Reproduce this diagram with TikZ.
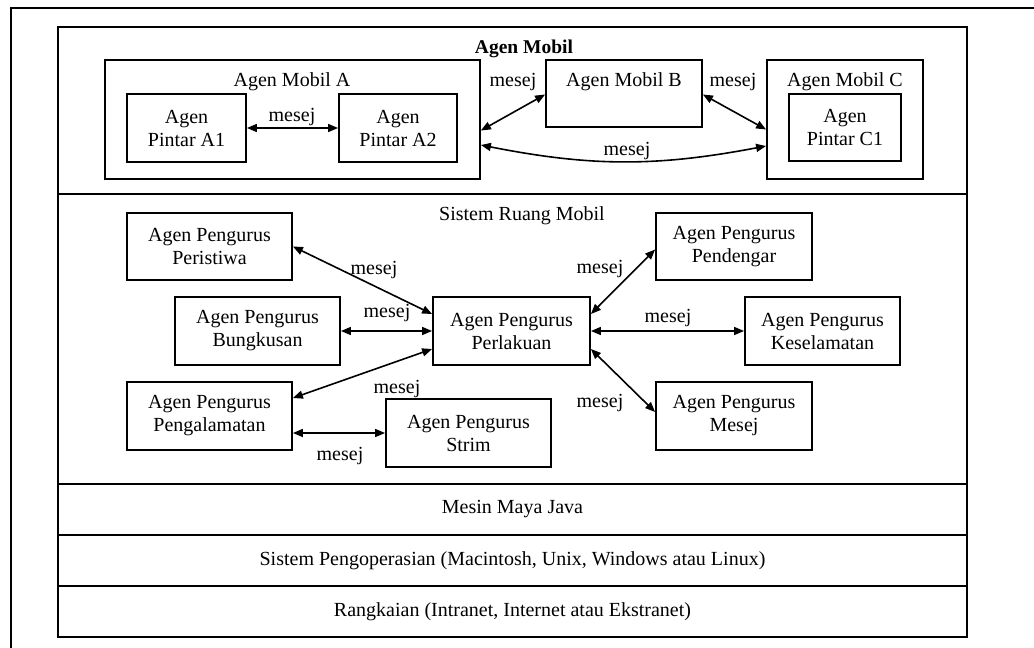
\documentclass[tikz,border=0pt]{standalone}
\usepackage{fontspec}
\setmainfont{Liberation Serif}
\usetikzlibrary{arrows.meta,calc}
\begin{document}
\begin{tikzpicture}[x=1pt,y=-1pt,
  txt/.style={font=\fontsize{20}{23}\selectfont, align=center, inner sep=0pt},
  box/.style={txt, draw, line width=1.8pt, minimum width=#1, inner sep=0pt},
  band/.style={draw, line width=1.8pt, minimum width=909pt, inner sep=0pt, txt},
  msg/.style={line width=1.6pt, {Triangle[length=10pt,width=8pt]}-{Triangle[length=10pt,width=8pt]}},
  lbl/.style={txt}
]
\useasboundingbox (0,0) rectangle (1034,648);
% outer frame (top and left edges only)
\draw[line width=1.5pt] (11,648) -- (11,8) -- (1034,8);

% layer bands
\node[band, minimum height=167pt] (bandmobil) at (512.5,110.5) {};
\node[band, minimum height=290pt] (bandruang) at (512.5,339) {};
\node[band, minimum height=51pt] (jvm) at (512.5,509.5) {Mesin Maya Java};
\node[band, minimum height=51pt] (os) at (512.5,560.5) {Sistem Pengoperasian (Macintosh, Unix, Windows atau Linux)};
\node[band, minimum height=51pt] (net) at (512.5,611.5) {Rangkaian (Intranet, Internet atau Ekstranet)};

% mobile agents
\node[lbl, font=\fontsize{19.5}{23}\selectfont\bfseries] (tmobil) at (524,49) {Agen Mobil};
\node[box=375pt, minimum height=119pt] (mobA) at (292.5,119.5) {};
\node[lbl] (tmobA) at (292,82) {Agen Mobil A};
\node[box=119pt, minimum height=68pt] (a1) at (186.5,128) {Agen\\Pintar A1};
\node[box=118pt, minimum height=68pt] (a2) at (398,128) {Agen\\Pintar A2};
\node[box=156pt, minimum height=67pt] (mobB) at (624,93.5) {};
\node[lbl] (tmobB) at (624,82) {Agen Mobil B};
\node[box=156pt, minimum height=119pt] (mobC) at (845,119.5) {};
\node[lbl] (tmobC) at (845,82) {Agen Mobil C};
\node[box=112pt, minimum height=67pt] (c1) at (845,127.5) {Agen\\Pintar C1};

\draw[msg] (a1.east) -- (a2.west);
\node[lbl] (m1) at (292,117) {mesej};
\draw[msg] ([yshift=-11pt]mobA.east) -- ([yshift=-1pt]mobB.west);
\node[lbl] (m2) at (513,82) {mesej};
\draw[msg] ([yshift=-1pt]mobB.east) -- ([yshift=-10pt]mobC.west);
\node[lbl] (m3) at (733,82) {mesej};
\draw[msg] ([yshift=-25.5pt]mobA.east) to[bend right=11] ([yshift=-26.5pt]mobC.west);
\node[lbl] (m4) at (627,151) {mesej};

% mobile space system
\node[lbl] (truang) at (522,216) {Sistem Ruang Mobil};
\node[box=165pt, minimum height=67pt] (per) at (209.5,246.5) {Agen Pengurus\\Peristiwa};
\node[box=156pt, minimum height=67pt] (pen) at (734,246.5) {Agen Pengurus\\Pendengar};
\node[box=165pt, minimum height=68pt] (bun) at (257.5,331) {Agen Pengurus\\Bungkusan};
\node[box=157pt, minimum height=68pt] (perl) at (511.5,331) {Agen Pengurus\\Perlakuan};
\node[box=155pt, minimum height=68pt] (kes) at (822.5,331) {Agen Pengurus\\Keselamatan};
\node[box=165pt, minimum height=68pt] (pgl) at (209.5,416) {Agen Pengurus\\Pengalamatan};
\node[box=165pt, minimum height=68pt] (strim) at (468.5,433) {Agen Pengurus\\Strim};
\node[box=156pt, minimum height=68pt] (msj) at (734,416) {Agen Pengurus\\Mesej};

\draw[msg] (per.east) -- ([yshift=17pt]perl.west);
\node[lbl] (m5) at (374,270) {mesej};
\draw[msg] (bun.east) -- (perl.west);
\node[lbl] (m6) at (387,313) {mesej};
\draw[msg] ([yshift=18pt]pgl.east) -- ([yshift=-18pt]perl.west);
\node[lbl] (m7) at (397,389) {mesej};
\draw[msg] ([yshift=-17pt]pgl.east) -- (strim.west);
\node[lbl] (m8) at (340,456) {mesej};
\draw[msg] ([yshift=17pt]perl.east) -- ([yshift=-3pt]pen.west);
\node[lbl] (m9) at (600,269) {mesej};
\draw[msg] (perl.east) -- (kes.west);
\node[lbl] (m10) at (668,318) {mesej};
\draw[msg] ([yshift=-18pt]perl.east) -- ([yshift=4pt]msj.west);
\node[lbl] (m11) at (600,403) {mesej};
\end{tikzpicture}
\end{document}
